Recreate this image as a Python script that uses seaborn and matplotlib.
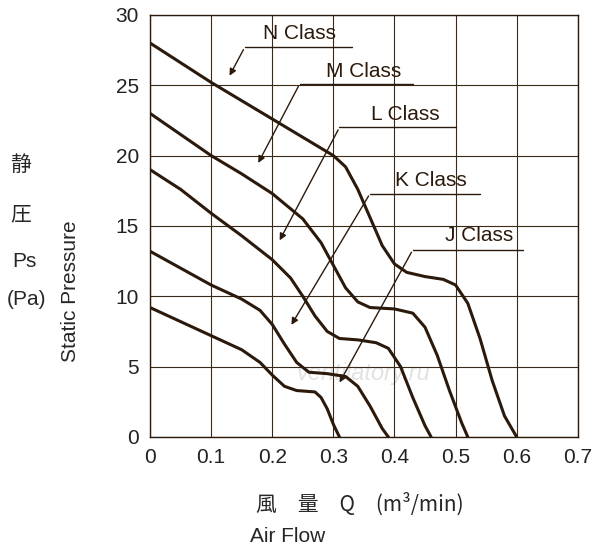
import matplotlib
matplotlib.use("Agg")
import matplotlib.pyplot as plt
import seaborn as sns
import pandas as pd

sns.set_theme(style="white")
plt.rcParams['font.family'] = ['Liberation Sans', 'DejaVu Sans', 'Noto Sans CJK JP']

N_x = [0, 0.05, 0.1, 0.15, 0.2, 0.25, 0.3, 0.32, 0.34, 0.36, 0.38, 0.40, 0.42, 0.45, 0.48, 0.50, 0.52, 0.54, 0.56, 0.58, 0.60]
N_y = [28, 26.6, 25.2, 23.9, 22.6, 21.3, 20, 19.2, 17.6, 15.6, 13.6, 12.3, 11.7, 11.4, 11.2, 10.8, 9.5, 7, 4, 1.5, 0]
M_x = [0, 0.05, 0.1, 0.15, 0.2, 0.25, 0.28, 0.30, 0.32, 0.34, 0.36, 0.40, 0.43, 0.45, 0.47, 0.49, 0.51, 0.52]
M_y = [23, 21.5, 20, 18.7, 17.3, 15.5, 13.8, 12.2, 10.6, 9.6, 9.2, 9.1, 8.8, 7.8, 5.8, 3.3, 1.0, 0]
L_x = [0, 0.05, 0.1, 0.15, 0.2, 0.23, 0.25, 0.27, 0.29, 0.31, 0.34, 0.37, 0.39, 0.41, 0.43, 0.45, 0.46]
L_y = [19, 17.6, 15.9, 14.3, 12.6, 11.3, 10.0, 8.6, 7.5, 7.0, 6.9, 6.7, 6.3, 5.0, 2.8, 0.8, 0]
K_x = [0, 0.05, 0.1, 0.15, 0.18, 0.2, 0.22, 0.24, 0.26, 0.29, 0.32, 0.34, 0.36, 0.38, 0.39]
K_y = [13.2, 12.0, 10.8, 9.8, 9.0, 8.0, 6.6, 5.3, 4.6, 4.5, 4.3, 3.6, 2.2, 0.6, 0]
J_x = [0, 0.04, 0.08, 0.12, 0.15, 0.18, 0.2, 0.22, 0.24, 0.27, 0.28, 0.29, 0.30, 0.31]
J_y = [9.2, 8.4, 7.6, 6.8, 6.2, 5.3, 4.4, 3.6, 3.3, 3.2, 2.8, 2.0, 0.9, 0]

labels = ["N Class", "M Class", "L Class", "K Class", "J Class"]
label_xy = [(0.245, 28.7), (0.35, 26.0), (0.418, 22.9), (0.46, 18.2), (0.538, 14.3)]
under_y = [27.7, 25.1, 22.0, 17.3, 13.3]
under_x = [(0.155, 0.33), (0.245, 0.43), (0.31, 0.50), (0.36, 0.54), (0.43, 0.61)]
tips = [(0.128, 25.5), (0.175, 19.3), (0.21, 13.8), (0.229, 7.8), (0.308, 3.7)]

col = "#2b1a0c"
fig = plt.figure(figsize=(6, 5.5), dpi=100)
ax = fig.add_axes([0.25, 0.2055, 0.713, 0.7675])

for xs, ys in [(N_x, N_y), (M_x, M_y), (L_x, L_y), (K_x, K_y), (J_x, J_y)]:
    df = pd.DataFrame({"x": xs, "y": ys})
    sns.lineplot(data=df, x="x", y="y", ax=ax, color=col, lw=2.2, sort=False)

for lab, (tx, ty), uy, (ux0, ux1), (px, py) in zip(labels, label_xy, under_y, under_x, tips):
    ax.text(tx, ty, lab, ha="center", va="center", fontsize=15, color=col)
    ax.plot([ux0, ux1], [uy, uy], color=col, lw=1)
    ax.annotate("", xy=(px, py), xytext=(ux0, uy),
                arrowprops=dict(arrowstyle="-|>", color=col, lw=1, mutation_scale=10))

ax.text(0.35, 4.5, "ventilatory.ru", ha="center", va="center", fontsize=17,
        style="italic", color="#e2e2e2", zorder=0)

ax.set_xlim(0, 0.7)
ax.set_ylim(0, 30)
ax.set_xticks([0, 0.1, 0.2, 0.3, 0.4, 0.5, 0.6, 0.7])
ax.set_xticklabels(["0", "0.1", "0.2", "0.3", "0.4", "0.5", "0.6", "0.7"])
ax.set_yticks([0, 5, 10, 15, 20, 25, 30])
ax.grid(True, color="#3a2a1a", lw=0.8)
for s in ax.spines.values():
    s.set_color(col); s.set_linewidth(1)
ax.tick_params(length=0, labelsize=15, colors="#222222", pad=8)
ax.set_xlabel(""); ax.set_ylabel("")

fig.text(0.117, 0.47, "Static Pressure", rotation=90, ha="center", va="center", fontsize=15)
fig.text(0.035, 0.70, "静", ha="center", va="center", fontsize=15, family=['Noto Sans CJK JP'])
fig.text(0.035, 0.61, "圧", ha="center", va="center", fontsize=15, family=['Noto Sans CJK JP'])
fig.text(0.04, 0.525, "Ps", ha="center", va="center", fontsize=15)
fig.text(0.045, 0.455, "(Pa)", ha="center", va="center", fontsize=15)
fig.text(0.60, 0.083, "風　量　Q　(m³/min)", ha="center", va="center", fontsize=15,
         family=['Noto Sans CJK JP', 'DejaVu Sans'])
fig.text(0.48, 0.025, "Air Flow", ha="center", va="center", fontsize=15)

fig.savefig("out.png", dpi=100)
